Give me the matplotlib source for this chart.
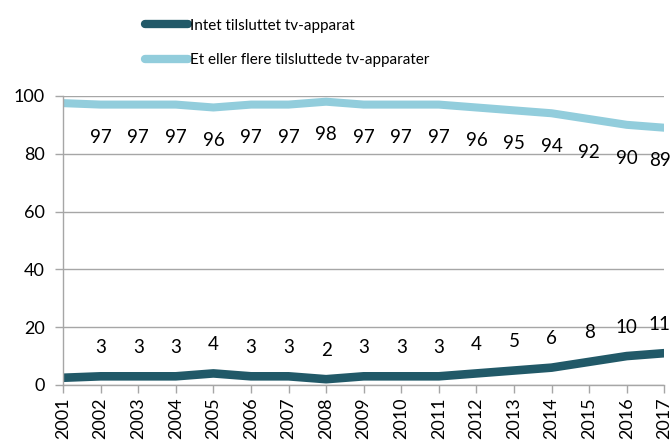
import matplotlib
matplotlib.use('Agg')
import matplotlib.pyplot as plt

years = list(range(2001, 2018))
no_tv = [2.5, 3, 3, 3, 4, 3, 3, 2, 3, 3, 3, 4, 5, 6, 8, 10, 11]
tv = [97.5, 97, 97, 97, 96, 97, 97, 98, 97, 97, 97, 96, 95, 94, 92, 90, 89]
label_no_tv = 'Intet tilsluttet tv-apparat'
label_tv = 'Et eller flere tilsluttede tv-apparater'

DARK = '#215968'
LIGHT = '#92CDDC'
GRID = '#A6A6A6'

plt.rcParams['font.family'] = ['Lato', 'DejaVu Sans']
plt.rcParams['font.size'] = 13

fig = plt.figure(figsize=(6.71, 4.42), dpi=100)
ax = fig.add_axes([0.094, 0.129, 0.896, 0.654])

ax.plot(years, no_tv, color=DARK, linewidth=6.2, solid_capstyle='butt', label=label_no_tv)
ax.plot(years, tv, color=LIGHT, linewidth=5.8, solid_capstyle='butt', label=label_tv)

# data labels (first year has none in the original); last one nudged to stay inside
for i, (x, v) in enumerate(zip(years[1:], tv[1:])):
    dx = -0.12 if i == len(years) - 2 else 0
    ax.text(x + dx, v - 11.5, f'{v:g}', ha='center', va='center', fontsize=13.5)
for i, (x, v) in enumerate(zip(years[1:], no_tv[1:])):
    dx = -0.12 if i == len(years) - 2 else 0
    ax.text(x + dx, v + 10, f'{v:g}', ha='center', va='center', fontsize=13.5)

ax.set_xlim(years[0], years[-1])
ax.set_ylim(0, 100)
ax.set_yticks(range(0, 101, 20))
ax.set_xticks(years)
ax.set_xticklabels([str(y) for y in years], rotation=90)
ax.grid(axis='y', color=GRID, linewidth=1)
ax.set_axisbelow(True)
for s in ['top', 'right']:
    ax.spines[s].set_visible(False)
for s in ['left', 'bottom']:
    ax.spines[s].set_color(GRID)
    ax.spines[s].set_linewidth(1)
ax.tick_params(axis='both', color=GRID, length=6, width=1, labelsize=13)
ax.tick_params(axis='x', pad=3)
ax.tick_params(axis='y', pad=7)

leg = fig.legend(loc='upper left', bbox_to_anchor=(0.196, 0.989), frameon=False,
                 handlelength=2.8, handletextpad=0.1, labelspacing=1.35, fontsize=11)
for h in leg.get_lines():
    h.set_linewidth(6)
    h.set_solid_capstyle('round')

fig.savefig('out.png', dpi=100)
